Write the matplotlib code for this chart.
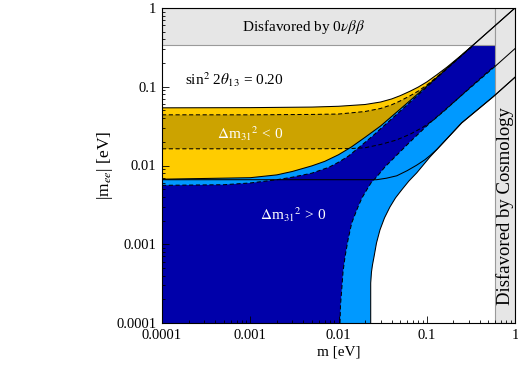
import matplotlib
matplotlib.use("Agg")
import matplotlib.pyplot as plt
from matplotlib.patches import Rectangle

plt.rcParams['font.family'] = ['Liberation Serif', 'DejaVu Serif']
plt.rcParams['mathtext.fontset'] = 'stix'

# |m_ee| bands vs lightest mass m (eV)
# inverted hierarchy: outer band (solid) and best-fit band (dashed)
ih_up_out_m = [1e-4, 1e-3, 0.005, 0.01, 0.02, 0.03, 0.04, 0.05, 0.065, 0.08, 0.1, 0.13, 0.17, 0.24, 0.37, 1.0]
ih_up_out = [0.054, 0.0543, 0.0552, 0.0565, 0.0595, 0.064, 0.07, 0.077, 0.088, 0.099, 0.115, 0.142, 0.178, 0.245, 0.373, 1.0]
ih_up_best_m = [1e-4, 1e-3, 0.005, 0.01, 0.02, 0.03, 0.04, 0.05, 0.065, 0.08, 0.1, 0.13, 0.17, 0.24, 0.37, 1.0]
ih_up_best = [0.044, 0.044, 0.0445, 0.045, 0.0485, 0.053, 0.059, 0.066, 0.077, 0.088, 0.105, 0.133, 0.172, 0.242, 0.37, 0.995]
ih_lo_best_m = [1e-4, 0.005, 0.0135, 0.02, 0.03, 0.045, 0.065, 0.09, 0.12, 0.16, 0.22, 0.3, 0.59, 1.0]
ih_lo_best = [0.0163, 0.0163, 0.0164, 0.0168, 0.0185, 0.021, 0.025, 0.0305, 0.038, 0.05, 0.069, 0.095, 0.185, 0.31]
ih_lo_out_m = [1e-4, 0.01, 0.027, 0.035, 0.0457, 0.06, 0.0769, 0.095, 0.11, 0.13, 0.16, 0.249, 0.564, 1.0]
ih_lo_out = [0.0066, 0.0066, 0.0066, 0.0069, 0.0074, 0.0086, 0.0101, 0.0118, 0.0135, 0.016, 0.0205, 0.0348, 0.0744, 0.132]

# normal hierarchy: outer band and best-fit band
nh_up_out_m = [1e-4, 1e-3, 0.002, 0.003, 0.005, 0.007, 0.01, 0.014, 0.02, 0.03, 0.05, 0.08, 0.12, 0.17, 0.37, 1.0]
nh_up_out = [0.0067, 0.007, 0.0076, 0.0084, 0.0099, 0.0113, 0.0137, 0.0172, 0.0228, 0.0318, 0.052, 0.082, 0.121, 0.172, 0.372, 1.0]
nh_up_best_m = [1e-4, 5e-4, 1e-3, 0.002, 0.003, 0.005, 0.0078, 0.01, 0.013, 0.0185, 0.025, 0.0295, 0.04, 0.05, 0.084, 0.17, 0.37, 1.0]
nh_up_best = [0.0056, 0.0057, 0.006, 0.0066, 0.0071, 0.008, 0.0095, 0.011, 0.0132, 0.0183, 0.0243, 0.0288, 0.039, 0.049, 0.083, 0.17, 0.37, 1.0]
nh_lo_best_m = [0.0104, 0.01054, 0.01087, 0.01125, 0.01185, 0.01281, 0.01412, 0.01663, 0.01846, 0.02087,
                0.02335, 0.0271, 0.03365, 0.0437, 0.0646, 0.1089, 0.293, 0.59, 1.0]
nh_lo_best = [1e-4, 0.000169, 0.000262, 0.000445, 0.00069, 0.001134, 0.001865, 0.00298, 0.00388, 0.0049,
              0.00601, 0.00717, 0.0096, 0.01286, 0.01995, 0.0348, 0.0914, 0.18, 0.305]
nh_lo_out_m = [0.02317, 0.02317, 0.02365, 0.02427, 0.02525, 0.02696, 0.0295, 0.0332, 0.0383, 0.04426,
               0.052, 0.0629, 0.0769, 0.1089, 0.16, 0.249, 0.564, 1.0]
nh_lo_out = [1e-4, 0.000322, 0.000445, 0.000546, 0.00069, 0.00104, 0.00152, 0.00216, 0.00298, 0.00388,
             0.0049, 0.00637, 0.00805, 0.01286, 0.0204, 0.0348, 0.0744, 0.132]

dbd_limit = 0.34      # disfavored by 0vbb above this
cosmo_limit = 0.59    # disfavored by cosmology right of this
xmin, xmax = 1e-4, 1.0
ymin, ymax = 1e-4, 1.0

c_dark_blue = '#0000aa'
c_light_blue = '#0099ff'
c_yellow = '#ffcc00'
c_gold = '#cca300'
c_band = '#e6e6e6'

fig = plt.figure(figsize=(5.18, 3.82), dpi=100)
ax = fig.add_axes([162 / 518, 59 / 382, 353 / 518, 315 / 382])
ax.set_xscale('log')
ax.set_yscale('log')
ax.set_xlim(xmin, xmax)
ax.set_ylim(ymin, ymax)

# inverted hierarchy
ax.fill(ih_up_out_m + ih_lo_out_m[::-1], ih_up_out + ih_lo_out[::-1],
        color=c_yellow, lw=0, zorder=1.0)
ax.fill(ih_up_best_m + ih_lo_best_m[::-1], ih_up_best + ih_lo_best[::-1],
        color=c_gold, lw=0, zorder=1.1)
# normal hierarchy, closed along the bottom of the axes
ax.fill(nh_up_out_m + nh_lo_out_m[::-1] + [xmin], nh_up_out + nh_lo_out[::-1] + [ymin],
        color=c_light_blue, lw=0, zorder=1.2)
ax.fill(nh_up_best_m + nh_lo_best_m[::-1] + [xmin], nh_up_best + nh_lo_best[::-1] + [ymin],
        color=c_dark_blue, lw=0, zorder=1.3)

dash = dict(color='black', lw=0.75, ls=(0, (4, 2.5)), zorder=1.6)
ax.plot(ih_up_best_m, ih_up_best, **dash)
ax.plot(ih_lo_best_m, ih_lo_best, **dash)
ax.plot(nh_up_best_m, nh_up_best, **dash)
ax.plot(nh_lo_best_m, nh_lo_best, **dash)

# excluded regions
top_band = Rectangle((xmin, dbd_limit), cosmo_limit - xmin, ymax - dbd_limit,
                     facecolor=c_band, edgecolor='#9a9a9a', lw=0.8, zorder=1.8)
cosmo_band = Rectangle((cosmo_limit, ymin), xmax - cosmo_limit, ymax - ymin,
                       facecolor=c_band, edgecolor='#9a9a9a', lw=0.8, zorder=1.8)
ax.add_patch(top_band)
ax.add_patch(cosmo_band)

solid = dict(color='black', lw=0.75, zorder=2.0)
ax.plot(ih_up_out_m, ih_up_out, **solid)
ax.plot(ih_lo_out_m, ih_lo_out, **solid)
ax.plot(nh_up_out_m, nh_up_out, **solid)
ax.plot(nh_lo_out_m, nh_lo_out, **solid)
mid, = ax.plot(nh_lo_best_m, nh_lo_best, **solid)
mid.set_clip_path(cosmo_band)

ax.text(0.40, 0.941, r'Disfavored by 0$\nu\beta\beta$', transform=ax.transAxes,
        ha='center', va='center', fontsize=11, zorder=3)
ax.text(0.973, 0.37, 'Disfavored by Cosmology', transform=ax.transAxes,
        ha='center', va='center', rotation=90, fontsize=13.5, zorder=3)
ax.text(0.065, 0.771, r'sin$^2$ 2$\theta_{13}$ = 0.20', transform=ax.transAxes,
        ha='left', va='center', fontsize=11, zorder=3)
ax.text(0.249, 0.600, r'$\Delta$m$_{31}$$^2$ < 0', transform=ax.transAxes,
        ha='center', va='center', fontsize=11, color='white', zorder=3)
ax.text(0.371, 0.343, r'$\Delta$m$_{31}$$^2$ > 0', transform=ax.transAxes,
        ha='center', va='center', fontsize=11, color='white', zorder=3)

ticks = [1e-4, 1e-3, 1e-2, 1e-1, 1]
tick_labels = ['0.0001', '0.001', '0.01', '0.1', '1']
ax.set_xticks(ticks)
ax.set_xticklabels(tick_labels)
ax.set_yticks(ticks)
ax.set_yticklabels(tick_labels)
ax.set_axisbelow(False)
ax.tick_params(which='both', direction='in', top=False, right=False,
               labelsize=10.5, width=0.6)
ax.tick_params(which='major', length=5, pad=4)
ax.tick_params(which='minor', length=2.5)
for s in ax.spines.values():
    s.set_linewidth(0.8)

ax.set_xlabel('m [eV]', fontsize=11, labelpad=3)
ax.set_ylabel(r'|m$_{ee}$| [eV]', fontsize=12.5, labelpad=1)

fig.savefig('out.png', dpi=100)
